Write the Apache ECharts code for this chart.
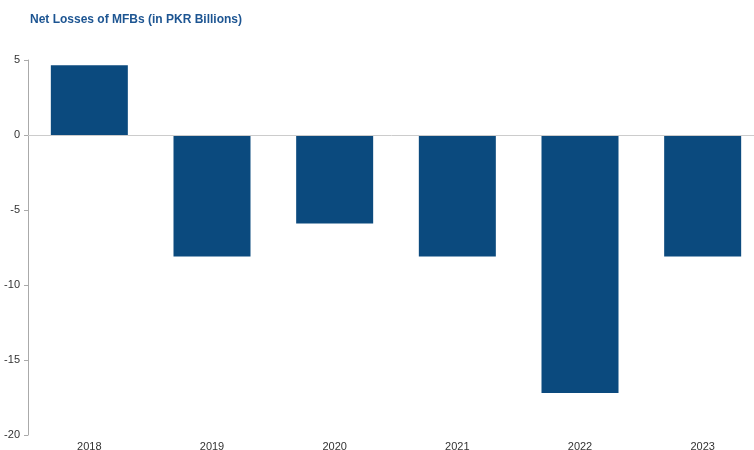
<!DOCTYPE html>
<html>
<head>
<meta charset="utf-8">
<style>
  html, body { margin: 0; padding: 0; background: #ffffff; }
  #chart { width: 754px; height: 450px; }
</style>
<script src="https://cdn.jsdelivr.net/npm/echarts@6/dist/echarts.min.js"></script>
</head>
<body>
<div id="chart"></div>
<script>
// Net losses of microfinance banks, PKR billions
const years = ['2018', '2019', '2020', '2021', '2022', '2023'];
const netLosses = [4.65, -8.1, -5.9, -8.1, -17.2, -8.1];
const yTicks = { min: -20, max: 5, step: 5 };

const chart = echarts.init(document.getElementById('chart'), null, { renderer: 'canvas' });

chart.setOption({
  animation: false,
  backgroundColor: '#ffffff',
  textStyle: { fontFamily: 'Liberation Sans, Arial, sans-serif' },
  title: {
    text: 'Net Losses of MFBs (in PKR Billions)',
    left: 25,
    top: 9,
    textStyle: {
      fontFamily: 'Liberation Sans, Arial, sans-serif',
      fontSize: 12,
      fontWeight: 'bold',
      color: '#1d5592'
    }
  },
  // plot area runs slightly past the right edge of the canvas
  grid: {
    left: 28, width: 736, top: 60, height: 375,
    containLabel: false,
    outerBoundsMode: 'none'
  },
  xAxis: {
    type: 'category',
    data: years,
    axisLine: { show: false },
    axisTick: { show: false },
    axisLabel: { color: '#333333', fontSize: 11, margin: 6 },
    splitLine: { show: false }
  },
  yAxis: {
    type: 'value',
    min: yTicks.min,
    max: yTicks.max,
    interval: yTicks.step,
    axisLine: { show: true, lineStyle: { color: '#aaaaaa', width: 1 } },
    axisTick: { show: true, length: 4, lineStyle: { color: '#aaaaaa' } },
    axisLabel: { color: '#333333', fontSize: 11, margin: 8 },
    splitLine: { show: false }
  },
  series: [{
    type: 'bar',
    data: netLosses,
    barWidth: 77,
    itemStyle: { color: '#0b4a7e' },
    markLine: {
      silent: true,
      symbol: 'none',
      label: { show: false },
      lineStyle: { color: '#cccccc', width: 1, type: 'solid' },
      data: [{ yAxis: 0 }]
    }
  }]
});
</script>
</body>
</html>
